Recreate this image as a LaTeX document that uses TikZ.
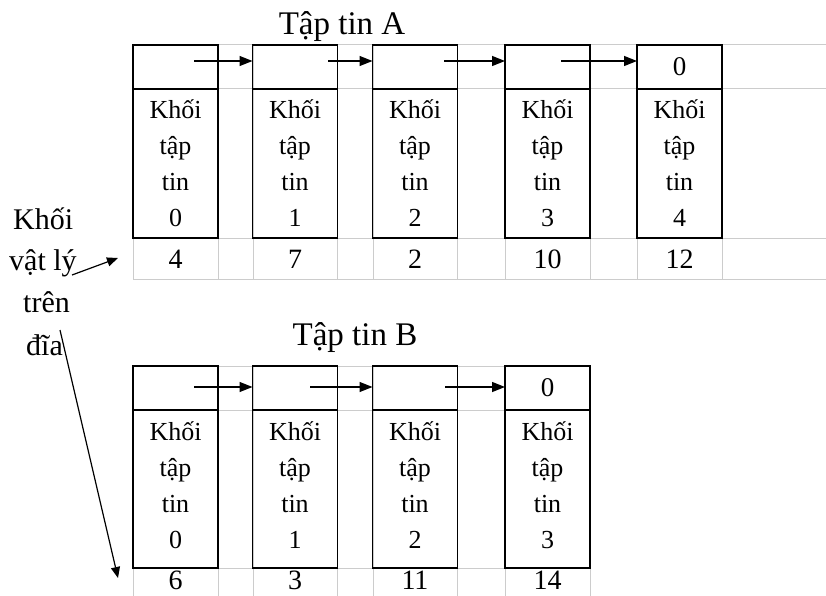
\documentclass[tikz,border=0pt]{standalone}
\usepackage{fontspec}
\setmainfont{Liberation Serif}
\usetikzlibrary{arrows.meta}
\begin{document}
\begin{tikzpicture}[x=1pt,y=-1pt,
  box/.style={draw=black,line width=1.6pt,minimum width=85pt,inner sep=0pt,outer sep=0pt},
  toprow/.style={box,minimum height=44pt,font=\fontsize{27}{30}\selectfont},
  body/.style={box,align=center,font=\fontsize{26}{36}\selectfont},
  num/.style={font=\fontsize{28}{30}\selectfont,inner sep=0pt},
  gridline/.style={draw=gray!40,line width=1pt},
  link/.style={line width=1.4pt,-{Triangle[length=13pt,width=10pt]}},
  pointer/.style={line width=1.2pt,-{Triangle[length=11pt,width=9pt]}},
  title/.style={font=\fontsize{33}{36}\selectfont,anchor=base,inner sep=0pt},
  side/.style={font=\fontsize{30}{34}\selectfont,anchor=base west,inner sep=0pt}]
\useasboundingbox (0,0) rectangle (826,596);

% grid of file A
\foreach \y in {45,89,238,279} \draw[gridline] (133,\y) -- (826,\y);
\foreach \x in {133,218,253,337,373,457,505,590,637,722} \draw[gridline] (\x,45) -- (\x,279);
% grid of file B
\foreach \y in {366,410,568} \draw[gridline] (133,\y) -- (590,\y);
\foreach \x in {133,218,253,337,373,457,505,590} \draw[gridline] (\x,366) -- (\x,596);

% titles
\node[title] (tA) at (342,35) {Tập tin A};
\node[title] (tB) at (355,345) {Tập tin B};

% file A
\node[toprow] (A0t) at (175.5,67) {};
\node[toprow] (A1t) at (295,67) {};
\node[toprow] (A2t) at (415,67) {};
\node[toprow] (A3t) at (547.5,67) {};
\node[toprow] (A4t) at (679.5,67) {0};
\node[body,minimum height=149pt] (A0b) at (175.5,163.5) {Khối\\tập\\tin\\0};
\node[body,minimum height=149pt] (A1b) at (295,163.5) {Khối\\tập\\tin\\1};
\node[body,minimum height=149pt] (A2b) at (415,163.5) {Khối\\tập\\tin\\2};
\node[body,minimum height=149pt] (A3b) at (547.5,163.5) {Khối\\tập\\tin\\3};
\node[body,minimum height=149pt] (A4b) at (679.5,163.5) {Khối\\tập\\tin\\4};
\node[num] (A0n) at (175.5,259) {4};
\node[num] (A1n) at (295,259) {7};
\node[num] (A2n) at (415,259) {2};
\node[num] (A3n) at (547.5,259) {10};
\node[num] (A4n) at (679.5,259) {12};
\draw[link] ([xshift=18.5pt,yshift=6pt]A0t.center) -- ([yshift=6pt]A1t.west);
\draw[link] ([xshift=33pt,yshift=6pt]A1t.center) -- ([yshift=6pt]A2t.west);
\draw[link] ([xshift=29pt,yshift=6pt]A2t.center) -- ([yshift=6pt]A3t.west);
\draw[link] ([xshift=13.5pt,yshift=6pt]A3t.center) -- ([yshift=6pt]A4t.west);

% file B
\node[toprow] (B0t) at (175.5,388) {};
\node[toprow] (B1t) at (295,388) {};
\node[toprow] (B2t) at (415,388) {};
\node[toprow] (B3t) at (547.5,388) {0};
\node[body,minimum height=158pt,text depth=8pt] (B0b) at (175.5,489) {Khối\\tập\\tin\\0};
\node[body,minimum height=158pt,text depth=8pt] (B1b) at (295,489) {Khối\\tập\\tin\\1};
\node[body,minimum height=158pt,text depth=8pt] (B2b) at (415,489) {Khối\\tập\\tin\\2};
\node[body,minimum height=158pt,text depth=8pt] (B3b) at (547.5,489) {Khối\\tập\\tin\\3};
\node[num] (B0n) at (175.5,580) {6};
\node[num] (B1n) at (295,580) {3};
\node[num] (B2n) at (415,580) {11};
\node[num] (B3n) at (547.5,580) {14};
\draw[link] ([xshift=18.5pt,yshift=1pt]B0t.center) -- ([yshift=1pt]B1t.west);
\draw[link] ([xshift=15pt,yshift=1pt]B1t.center) -- ([yshift=1pt]B2t.west);
\draw[link] ([xshift=30pt,yshift=1pt]B2t.center) -- ([yshift=1pt]B3t.west);

% side label
\node[side] (s1) at (13,229) {Khối};
\node[side] (s2) at (9,270) {vật lý};
\node[side] (s3) at (23,312) {trên};
\node[side] (s4) at (26,355) {đĩa};
\coordinate (pA) at (118,258);
\coordinate (pB) at (118,578);
\coordinate (sA) at (72,275);
\coordinate (sB) at (60,330);
\draw[pointer] (sA) -- (pA);
\draw[pointer] (sB) -- (pB);
\end{tikzpicture}
\end{document}
